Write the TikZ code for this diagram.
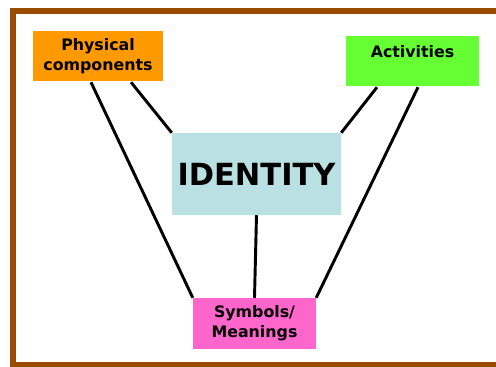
\documentclass[tikz,border=0pt]{standalone}
\usepackage{xcolor}
\usepackage{fontspec}
\setmainfont{DejaVu Sans}
\usepackage{tikz}

\definecolor{framebrown}{HTML}{994C00}
\definecolor{physorange}{HTML}{FF9900}
\definecolor{actgreen}{HTML}{66FF33}
\definecolor{identblue}{HTML}{B9E0E3}
\definecolor{symbpink}{HTML}{FF66CC}

\begin{document}
\begin{tikzpicture}[x=0.03cm,y=-0.03cm,
                    box/.style={inner sep=0pt,align=center,text=black,font=\bfseries\fontsize{13.5}{17}\selectfont},
                    link/.style={line width=2.5pt}]
                    \useasboundingbox (0,0) rectangle (496,367);
                    \draw[framebrown,line width=5.1pt] (496,11) -- (13,11) -- (13,365) -- (496,365);

                    \node[box,fill=physorange,minimum width=3.9cm,minimum height=1.5cm] (phys) at (98,56) {Physical\\components};
                    \node[box,fill=actgreen,minimum width=3.99cm,minimum height=1.5cm,text depth=0.6cm] (act) at (412.5,61) {Activities};
                    \node[box,fill=identblue,minimum width=5.07cm,minimum height=2.46cm,font=\bfseries\fontsize{26}{31}\selectfont] (ident) at (256.5,174) {IDENTITY};
                    \node[box,fill=symbpink,minimum width=3.69cm,minimum height=1.53cm] (symb) at (254.5,323.5) {Symbols/\\Meanings};

                    \draw[link] ([xshift=-0.21cm,yshift=-0.03cm]phys.south) -- (symb.north west);
                    \draw[link] ([xshift=0.99cm,yshift=-0.03cm]phys.south) -- (ident.north west);
                    \draw[link] ([xshift=-1.065cm,yshift=-0.03cm]act.south) -- (ident.north east);
                    \draw[link] ([xshift=0.165cm,yshift=-0.03cm]act.south) -- (symb.north east);
                    \draw[link] (ident.south) -- (symb.north);
                 \end{tikzpicture}
\end{document}
